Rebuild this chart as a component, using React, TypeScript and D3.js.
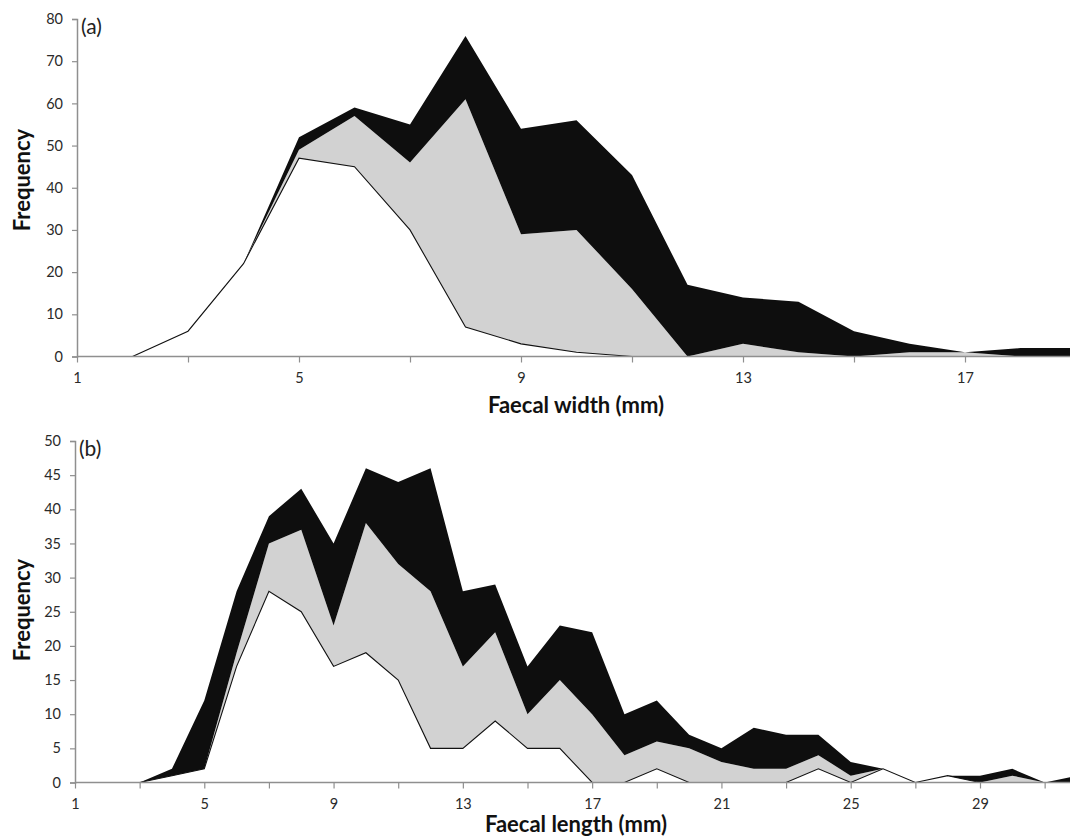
import React, { useEffect, useRef } from 'react';
import * as d3 from 'd3';

// (a) faecal width, mm classes
const widthCats = [2, 3, 4, 5, 6, 7, 8, 9, 10, 11, 12, 13, 14, 15, 16, 17, 18, 19, 20];
const widthWhite = [0, 6, 22, 47, 45, 30, 7, 3, 1, 0, 0, 0, 0, 0, 0, 0, 0, 0, 0];
const widthGrey = [0, 0, 0, 2, 12, 16, 54, 26, 29, 16, 0, 3, 1, 0, 1, 1, 0, 0, 0];
const widthBlack = [0, 0, 0, 3, 2, 9, 15, 25, 26, 27, 17, 11, 12, 6, 2, 0, 2, 2, 2];

// (b) faecal length, mm classes
const lengthCats = [3, 4, 5, 6, 7, 8, 9, 10, 11, 12, 13, 14, 15, 16, 17, 18, 19, 20, 21, 22, 23, 24, 25, 26, 27, 28, 29, 30, 31, 32];
const lengthWhite = [0, 1, 2, 17, 28, 25, 17, 19, 15, 5, 5, 9, 5, 5, 0, 0, 2, 0, 0, 0, 0, 2, 0, 2, 0, 1, 0, 0, 0, 0];
const lengthGrey = [0, 0, 0, 2, 7, 12, 6, 19, 17, 23, 12, 13, 5, 10, 10, 4, 4, 5, 3, 2, 2, 2, 1, 0, 0, 0, 0, 1, 0, 0];
const lengthBlack = [0, 1, 10, 9, 4, 6, 12, 8, 12, 18, 11, 7, 7, 8, 12, 6, 6, 2, 2, 6, 5, 3, 2, 0, 0, 0, 1, 1, 0, 1];

const yTicksA = [0, 10, 20, 30, 40, 50, 60, 70, 80];
const yTicksB = [0, 5, 10, 15, 20, 25, 30, 35, 40, 45, 50];

const W = 1070;
const FONT = 'Lato, "Open Sans", sans-serif';
const fills = ['#ffffff', '#d2d2d2', '#0e0e0e'];

function drawPanel(g, opts) {
  const { cats, white, grey, black, x, y, yTicks, letter, xLabel, labelY, freqY } = opts;
  const rows = cats.map((c, i) => ({ c, white: white[i], grey: grey[i], black: black[i] }));
  const stack = d3.stack().keys(['white', 'grey', 'black'])(rows);

  const area = d3.area()
    .x(d => x(d.data.c))
    .y0(d => y(d[0]))
    .y1(d => y(d[1]));

  stack.forEach((layer, i) => {
    g.append('path').attr('d', area(layer)).attr('fill', fills[i]).attr('stroke', 'none');
  });

  // outline on the white series
  const line = d3.line().x(d => x(d.data.c)).y(d => y(d[1]));
  g.append('path').attr('d', line(stack[0])).attr('fill', 'none')
    .attr('stroke', '#111').attr('stroke-width', 1.1);

  // x axis, ticks every 2 classes, labels every 4 (only the visible ones)
  const x0 = x.range()[0];
  const y0 = y(0);
  const lastVisible = Math.floor(x.invert(W - 4));
  const xa = d3.axisBottom(x).tickValues(d3.range(1, lastVisible + 1, 2)).tickSize(6).tickFormat(d3.format('d'));
  const xg = g.append('g').attr('transform', `translate(0,${y0})`).call(xa);
  xg.select('.domain').attr('d', `M${x0},0H${W}`);
  xg.selectAll('.tick text').filter(d => (d - 1) % 4 !== 0).remove();

  // y axis
  const ya = d3.axisLeft(y).tickValues(yTicks).tickSize(5);
  const yg = g.append('g').attr('transform', `translate(${x0},0)`).call(ya);

  [xg, yg].forEach(ag => {
    ag.select('.domain').attr('stroke', '#8f8f8f').attr('stroke-width', 1.5);
    ag.selectAll('.tick line').attr('stroke', '#8f8f8f').attr('stroke-width', 1.2);
    ag.selectAll('.tick text').attr('fill', '#2a2a2a').style('font-family', FONT).style('font-size', '14.5px');
  });
  xg.selectAll('.tick text').attr('dy', '1.2em');
  yg.selectAll('.tick text').attr('x', -14);

  g.append('text').attr('x', x0 + 4).attr('y', y.range()[1] + 15)
    .style('font-family', FONT).style('font-size', '21px').attr('fill', '#222').text(letter);

  g.append('text').attr('x', 576).attr('y', labelY).attr('text-anchor', 'middle')
    .style('font-family', FONT).style('font-size', '22px').style('font-weight', 'bold')
    .attr('fill', '#111').text(xLabel);

  g.append('text').attr('transform', `translate(30,${freqY}) rotate(-90)`).attr('text-anchor', 'middle')
    .style('font-family', FONT).style('font-size', '22px').style('font-weight', 'bold')
    .attr('fill', '#111').text('Frequency');
}

export default function App() {
  const ref = useRef(null);

  useEffect(() => {
    const svg = d3.select(ref.current);
    svg.selectAll('*').remove();

    const xA = d3.scaleLinear().domain([1, 17]).range([77, 965]);
    const yA = d3.scaleLinear().domain([0, 80]).range([356.5, 19]);
    drawPanel(svg.append('g'), {
      cats: widthCats, white: widthWhite, grey: widthGrey, black: widthBlack,
      x: xA, y: yA, yTicks: yTicksA, letter: '(a)',
      xLabel: 'Faecal width (mm)', labelY: 413, freqY: 180,
    });

    const xB = d3.scaleLinear().domain([1, 29]).range([75, 980]);
    const yB = d3.scaleLinear().domain([0, 50]).range([782.5, 441]);
    drawPanel(svg.append('g'), {
      cats: lengthCats, white: lengthWhite, grey: lengthGrey, black: lengthBlack,
      x: xB, y: yB, yTicks: yTicksB, letter: '(b)',
      xLabel: 'Faecal length (mm)', labelY: 832, freqY: 610,
    });
  }, []);

  return (
    <svg ref={ref} width={W} height={840}
      style={{ position: 'absolute', left: 0, top: 0, background: '#fff' }} />
  );
}
